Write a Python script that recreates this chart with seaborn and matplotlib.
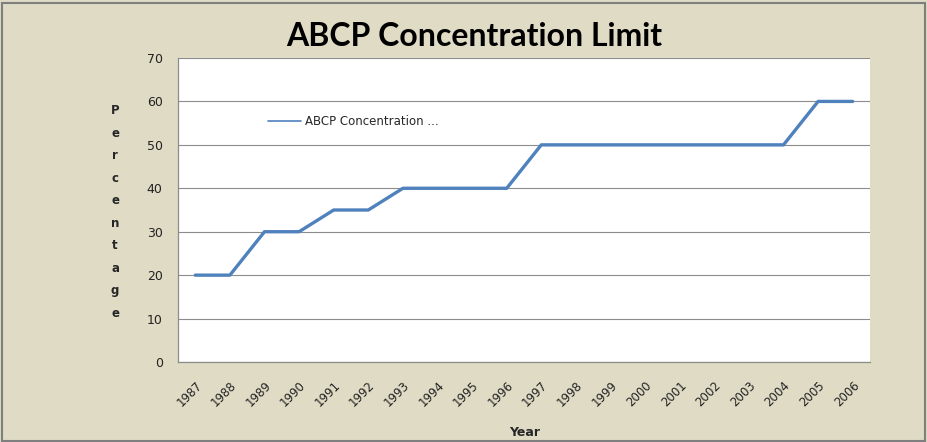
import numpy as np
import pandas as pd
import seaborn as sns

import matplotlib

matplotlib.use("Agg")
import matplotlib.pyplot as plt
from matplotlib.patches import Rectangle

years = [str(y) for y in range(1987, 2007)]
limit_pct = [20, 20, 30, 30, 35, 35, 40, 40, 40, 40,
             50, 50, 50, 50, 50, 50, 50, 50, 60, 60]
series_name = "ABCP Concentration ..."
y_ticks = [0, 10, 20, 30, 40, 50, 60, 70]

df = pd.DataFrame({"year": years, "pct": limit_pct})

sns.set_style("white")
plt.rcParams["font.family"] = ["DejaVu Sans"]

bg = "#DFDBC5"
fig = plt.figure(figsize=(9.27, 4.42), dpi=100, facecolor=bg)
ax = fig.add_axes([178 / 927, 1 - 362 / 442, (870 - 178) / 927, (362 - 58) / 442])
ax.set_facecolor("white")

sns.lineplot(data=df, x="year", y="pct", color="#4F81BD", linewidth=2.4,
             label=series_name, ax=ax)

ax.set_xlim(-0.5, len(years) - 0.5)
ax.set_ylim(0, 70)
ax.set_yticks(y_ticks)
ax.yaxis.grid(True, color="#8C8C8C", linewidth=0.8)
ax.set_axisbelow(True)

# category labels between the tick marks, like Excel
ax.set_xticks(range(len(years)))
ax.set_xticklabels(years, rotation=45, ha="right", rotation_mode="anchor",
                   fontsize=8.5, color="#222222")
ax.tick_params(axis="x", which="major", length=0, pad=12)
ax.set_xticks(np.arange(-0.5, len(years)), minor=True)
ax.tick_params(axis="x", which="minor", length=5, color="#8C8C8C", direction="out")
ax.tick_params(axis="y", length=5, color="#8C8C8C", direction="out",
               labelsize=9, labelcolor="#222222", pad=6)

for side in ["top", "right"]:
    ax.spines[side].set_visible(False)
for side in ["left", "bottom"]:
    ax.spines[side].set_color("#8C8C8C")
    ax.spines[side].set_linewidth(0.9)

ax.set_xlabel("")
ax.set_ylabel("")

leg = ax.legend(loc="center left", bbox_to_anchor=(0.115, 0.79), frameon=False,
                fontsize=8.5, handlelength=2.8, handletextpad=0.3)
for line in leg.get_lines():
    line.set_linewidth(1.2)

fig.text(474 / 927, 1 - 37 / 442, "ABCP Concentration Limit", ha="center",
         va="center", fontsize=23, fontweight="bold", color="black",
         family=["Lato", "DejaVu Sans"])
fig.text(525 / 927, 1 - 432 / 442, "Year", ha="center", va="center",
         fontsize=9, fontweight="bold")
fig.text(115 / 927, 1 - 212 / 442, "\n".join("Percentage"), ha="center",
         va="center", fontsize=8.5, fontweight="bold", linespacing=1.95)

fig.patches.append(Rectangle((2 / 927, 1 / 442), 923 / 927, 438 / 442,
                             transform=fig.transFigure, fill=False,
                             edgecolor="#7F7F7F", linewidth=1.5))

plt.savefig("out.png", dpi=100, facecolor=bg)
plt.close()
